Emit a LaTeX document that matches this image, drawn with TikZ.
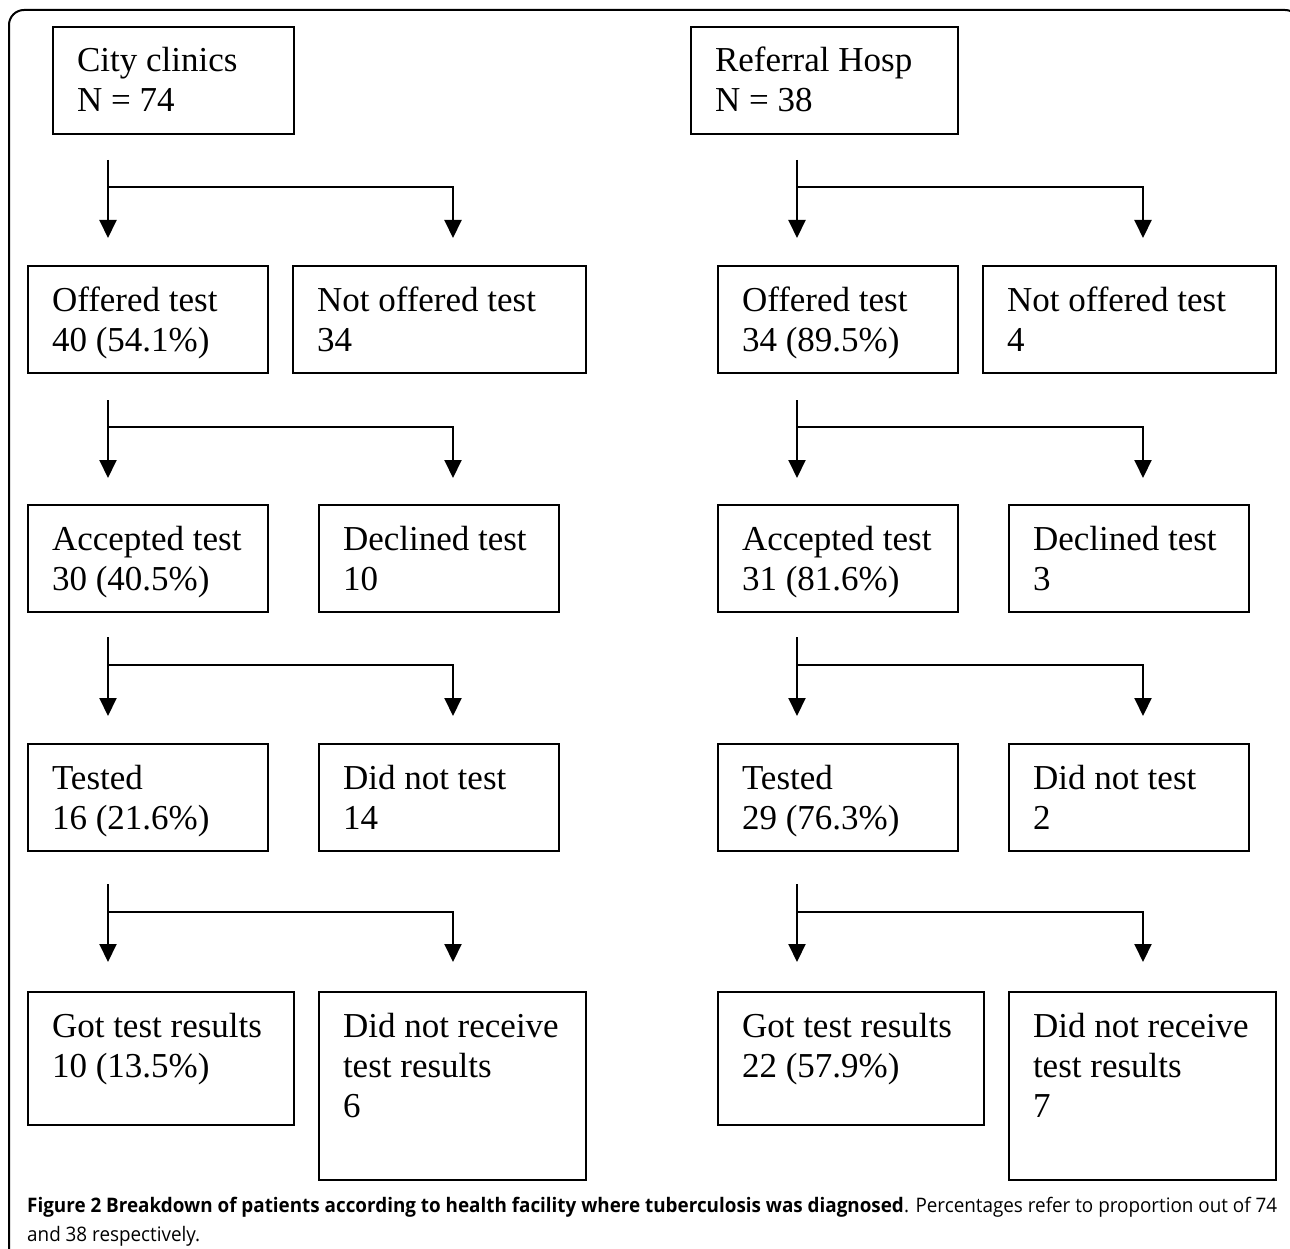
\documentclass[tikz,border=0pt]{standalone}
\usepackage{fontspec}
\setmainfont{Liberation Serif}
\newfontfamily\capfont{Open Sans}
\usetikzlibrary{arrows.meta,calc}
\newcommand\bxt[3]{\parbox[t][#2pt][t]{#1pt}{\raggedright\leftskip=24pt\parindent=0pt\fontsize{35}{40}\selectfont\rule{0pt}{45pt}#3}}
\tikzset{
  boxnode/.style={draw, line width=2pt, inner sep=0pt, outer sep=0pt, anchor=north west},
  arr/.style={line width=2pt, -{Triangle[width=17pt,length=18pt]}},
  frameline/.style={line width=2pt, rounded corners=15pt}
}
\begin{document}
\begin{tikzpicture}[x=1pt,y=-1pt]
\useasboundingbox (0,0) rectangle (1290,1249);
\begin{scope}
\clip (0,0) rectangle (1290,1249);
\draw[frameline] (9,1270) -- (9,10) -- (1300,10) -- (1300,1270);
\end{scope}
% left column
\node[boxnode] (cc) at (53,27) {\bxt{241}{107}{City clinics\\N = 74}};
\node[boxnode] (ol) at (28,266) {\bxt{240}{107}{Offered test\\40 (54.1\%)}};
\node[boxnode] (nol) at (293,266) {\bxt{293}{107}{Not offered test\\34}};
\node[boxnode] (al) at (28,505) {\bxt{240}{107}{Accepted test\\30 (40.5\%)}};
\node[boxnode] (dl) at (319,505) {\bxt{240}{107}{Declined test\\10}};
\node[boxnode] (tl) at (28,744) {\bxt{240}{107}{Tested\\16 (21.6\%)}};
\node[boxnode] (dtl) at (319,744) {\bxt{240}{107}{Did not test\\14}};
\node[boxnode] (gl) at (28,992) {\bxt{266}{133}{Got test results\\10 (13.5\%)}};
\node[boxnode] (rl) at (319,992) {\bxt{267}{188}{Did not receive\\test results\\6}};
% right column
\node[boxnode] (rh) at (691,27) {\bxt{267}{107}{Referral Hosp\\N = 38}};
\node[boxnode] (or) at (718,266) {\bxt{240}{107}{Offered test\\34 (89.5\%)}};
\node[boxnode] (nor) at (983,266) {\bxt{293}{107}{Not offered test\\4}};
\node[boxnode] (ar) at (718,505) {\bxt{240}{107}{Accepted test\\31 (81.6\%)}};
\node[boxnode] (dr) at (1009,505) {\bxt{240}{107}{Declined test\\3}};
\node[boxnode] (tr) at (718,744) {\bxt{240}{107}{Tested\\29 (76.3\%)}};
\node[boxnode] (dtr) at (1009,744) {\bxt{240}{107}{Did not test\\2}};
\node[boxnode] (gr) at (718,992) {\bxt{266}{133}{Got test results\\22 (57.9\%)}};
\node[boxnode] (rr) at (1009,992) {\bxt{267}{188}{Did not receive\\test results\\7}};
% branch connectors
\foreach \side/\xa/\xb in {L/108/453, R/797/1143}{
  \foreach \i/\ys/\yj/\yt in {1/160/187/238, 2/400/427/478, 3/637/665/716, 4/884/912/962}{
    \coordinate (s\side\i) at (\xa,\ys);
    \coordinate (j\side\i) at (\xa,\yj);
    \coordinate (a\side\i) at (\xa,\yt);
    \coordinate (b\side\i) at (\xb,\yt);
    \draw[arr] (s\side\i) -- (a\side\i);
    \draw[arr] (j\side\i) -| (b\side\i);
  }
}
% caption
\node[anchor=base west, inner sep=0pt] (cap) at (27,1212) {\capfont\fontsize{20}{29}\selectfont\resizebox{1250pt}{\height}{\begin{tabular}[t]{@{}l@{}}\textbf{Figure 2 Breakdown of patients according to health facility where tuberculosis was diagnosed}. Percentages refer to proportion out of 74\\and 38 respectively.\end{tabular}}};
\end{tikzpicture}
\end{document}
